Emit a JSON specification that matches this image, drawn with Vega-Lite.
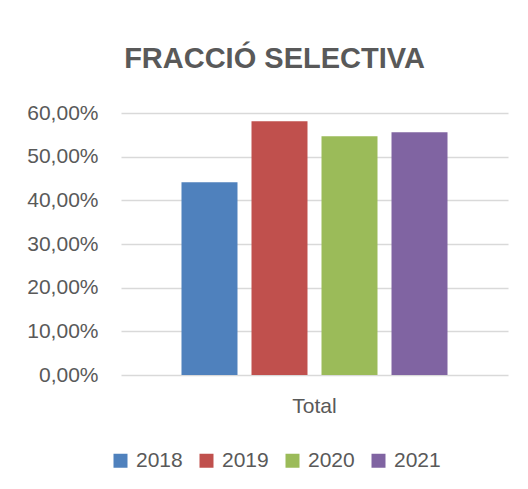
{
  "$schema": "https://vega.github.io/schema/vega-lite/v6.json",
  "autosize": "none",
  "width": 387,
  "height": 262,
  "padding": {"left": 121, "top": 113, "right": 20, "bottom": 114},
  "background": "white",
  "title": {
    "text": "FRACCIÓ SELECTIVA",
    "font": "Liberation Sans",
    "fontSize": 29,
    "fontWeight": "bold",
    "color": "#595959",
    "anchor": "middle",
    "dx": -40,
    "baseline": "alphabetic",
    "offset": 5
  },
  "data": {
    "values": [
      {"cat": "Total", "year": "2018", "value": 0.4413},
      {"cat": "Total", "year": "2019", "value": 0.581},
      {"cat": "Total", "year": "2020", "value": 0.5466},
      {"cat": "Total", "year": "2021", "value": 0.5558}
    ]
  },
  "mark": {"type": "bar"},
  "encoding": {
    "x": {
      "field": "cat",
      "type": "nominal",
      "scale": {"paddingInner": 0, "paddingOuter": 0.2274},
      "axis": {
        "title": null,
        "ticks": false,
        "domain": false,
        "labelAngle": 0,
        "labelFont": "Liberation Sans",
        "labelFontSize": 21,
        "labelColor": "#595959",
        "labelBaseline": "alphabetic",
        "labelPadding": 37
      }
    },
    "xOffset": {
      "field": "year",
      "type": "nominal",
      "scale": {"paddingInner": 0.2, "paddingOuter": 0}
    },
    "y": {
      "field": "value",
      "type": "quantitative",
      "scale": {"domain": [0, 0.6], "nice": false},
      "axis": {
        "title": null,
        "values": [0, 0.1, 0.2, 0.3, 0.4, 0.5, 0.6],
        "labelExpr": "replace(format(datum.value, '.2%'), '.', ',')",
        "ticks": false,
        "domain": false,
        "grid": true,
        "gridColor": "#D9D9D9",
        "gridWidth": 1.4,
        "labelFont": "Liberation Sans",
        "labelFontSize": 21,
        "labelColor": "#595959",
        "labelPadding": 23
      }
    },
    "color": {
      "field": "year",
      "type": "nominal",
      "scale": {
        "domain": ["2018", "2019", "2020", "2021"],
        "range": ["#4F81BD", "#C0504D", "#9BBB59", "#8064A2"]
      },
      "legend": {
        "title": null,
        "orient": "none",
        "direction": "horizontal",
        "legendX": -11,
        "legendY": 337,
        "symbolType": "square",
        "symbolSize": 196,
        "symbolStrokeWidth": 0,
        "labelFont": "Liberation Sans",
        "labelFontSize": 21,
        "labelColor": "#595959",
        "labelOffset": 5,
        "columnPadding": 13
      }
    }
  },
  "config": {
    "view": {"stroke": null}
  }
}
